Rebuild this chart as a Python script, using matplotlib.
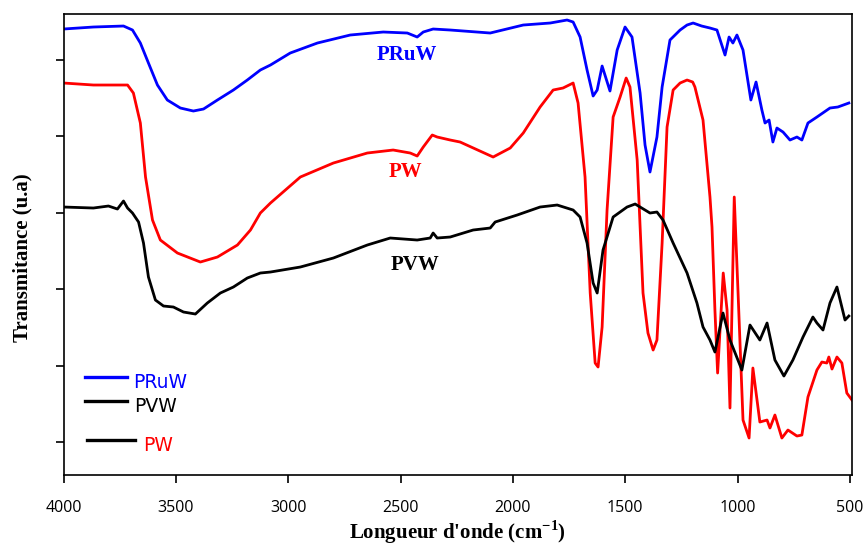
import matplotlib
matplotlib.use("Agg")
import matplotlib.pyplot as plt
import numpy as np

plt.rcParams['mathtext.fontset'] = 'custom'
plt.rcParams['mathtext.rm'] = 'Liberation Serif'
plt.rcParams['mathtext.bf'] = 'Liberation Serif:bold'

# wavenumbers (cm-1) and transmittance (arbitrary units)
pruw_wn = [4000, 3867, 3733, 3693, 3658, 3622, 3582, 3538, 3480, 3422, 3377, 3315, 3244, 3182,
           3124, 3079, 2991, 2870, 2724, 2577, 2470, 2426, 2399, 2355, 2279, 2101, 1954, 1834,
           1759, 1732, 1701, 1670, 1643, 1625, 1603, 1568, 1536, 1501, 1470, 1434, 1412, 1390,
           1359, 1336, 1301, 1256, 1225, 1198, 1160, 1123, 1092, 1056, 1038, 1021, 1003, 976,
           941, 918, 892, 878, 860, 843, 825, 798, 767, 736, 714, 687, 647, 589, 554, 505]
pruw_t = [433, 435, 436, 432, 419, 399, 377, 362, 354, 351, 353, 362, 372, 382,
          392, 397, 409, 419, 427, 430, 429, 425, 430, 433, 432, 429, 437, 439,
          442, 440, 425, 392, 366, 372, 396, 371, 412, 435, 425, 369, 317, 290,
          325, 375, 422, 432, 437, 439, 436, 434, 432, 407, 425, 419, 427, 412,
          362, 380, 352, 339, 342, 320, 334, 330, 322, 325, 322, 339, 345, 354, 355, 359]

pw_wn = [4000, 3867, 3715, 3689, 3658, 3635, 3604, 3569, 3493, 3391, 3315, 3226, 3168, 3124,
         3079, 2946, 2799, 2648, 2533, 2457, 2426, 2399, 2359, 2337, 2279, 2235, 2088, 2012,
         1954, 1879, 1821, 1777, 1732, 1710, 1679, 1656, 1634, 1621, 1603, 1581, 1554, 1523,
         1496, 1479, 1447, 1421, 1399, 1376, 1359, 1336, 1314, 1287, 1256, 1225, 1200, 1190,
         1154, 1123, 1114, 1101, 1089, 1064, 1047, 1034, 1015, 998, 976, 949, 932, 901,
         869, 856, 834, 803, 776, 736, 714, 687, 647, 625, 603, 594, 580, 558, 536, 514, 491]
pw_t = [379, 377, 377, 369, 339, 285, 242, 222, 209, 200, 205, 217, 232, 249,
        259, 285, 299, 309, 312, 309, 306, 315, 327, 325, 322, 320, 305, 314,
        329, 355, 372, 374, 379, 359, 285, 169, 99, 95, 135, 252, 345, 365,
        384, 375, 302, 169, 129, 112, 122, 219, 335, 372, 379, 382, 380, 375,
        342, 265, 235, 152, 89, 189, 152, 54, 265, 169, 42, 24, 94, 40,
        42, 34, 47, 24, 32, 26, 27, 65, 92, 100, 99, 105, 93, 105, 99, 69, 62]

pvw_wn = [4000, 3867, 3800, 3760, 3733, 3715, 3693, 3666, 3644, 3622, 3591, 3555, 3511, 3466,
          3413, 3360, 3302, 3244, 3182, 3124, 3079, 2946, 2799, 2648, 2546, 2426, 2368, 2355,
          2337, 2279, 2177, 2101, 2079, 1981, 1879, 1803, 1732, 1701, 1670, 1643, 1625, 1599,
          1554, 1492, 1456, 1390, 1359, 1332, 1287, 1225, 1181, 1154, 1123, 1101, 1065, 1034,
          981, 945, 901, 869, 834, 794, 754, 709, 665, 647, 620, 589, 558, 522, 505]
pvw_t = [255, 254, 256, 253, 261, 254, 249, 240, 219, 185, 162, 156, 155, 150,
         148, 159, 169, 175, 184, 189, 190, 195, 204, 217, 224, 222, 224, 229,
         224, 225, 232, 234, 240, 247, 255, 257, 252, 245, 219, 179, 169, 212,
         245, 255, 258, 249, 250, 242, 219, 189, 159, 135, 122, 110, 149, 122,
         92, 137, 122, 139, 102, 86, 102, 125, 145, 139, 132, 159, 175, 142, 146]

colors = {"PRuW": "#0000ff", "PW": "#ff0000", "PVW": "black"}

fig = plt.figure(figsize=(8.64, 5.45), dpi=100)
ax = fig.add_axes([0.0735, 0.1284, 0.9126, 0.8468])

ax.plot(pruw_wn, pruw_t, color=colors["PRuW"], lw=2.0)
ax.plot(pw_wn, pw_t, color=colors["PW"], lw=2.0)
ax.plot(pvw_wn, pvw_t, color=colors["PVW"], lw=2.0)

serif_bold = dict(family="Liberation Serif", fontweight="bold", fontsize=15)
ax.text(2470, 407, "PRuW", color=colors["PRuW"], ha="center", va="center", **serif_bold)
ax.text(2479, 290, "PW", color=colors["PW"], ha="center", va="center", **serif_bold)
ax.text(2435, 197, "PVW", color=colors["PVW"], ha="center", va="center", **serif_bold)

# hand-made legend as in the original figure
tr = ax.transAxes
ax.plot([0.0273, 0.0805], [0.2124, 0.2124], color=colors["PRuW"], lw=2.4, transform=tr)
ax.text(0.0881, 0.2015, "PRuW", color=colors["PRuW"], fontsize=13.5, va="center", transform=tr)
ax.plot([0.0273, 0.0805], [0.1603, 0.1603], color="black", lw=2.4, transform=tr)
ax.text(0.0894, 0.1495, "PVW", color="black", fontsize=13.5, va="center", transform=tr)
ax.plot([0.0298, 0.0907], [0.0758, 0.0758], color="black", lw=2.4, transform=tr)
ax.text(0.1008, 0.0650, "PW", color=colors["PW"], fontsize=13.5, va="center", transform=tr)

ax.set_xlim(4000, 491)
ax.set_ylim(-13, 448.5)
ax.set_xticks([4000, 3500, 3000, 2500, 2000, 1500, 1000, 500])
ax.set_yticks(20 + 76.4 * np.arange(6))
ax.set_yticklabels([])
ax.tick_params(axis="x", direction="out", length=6, width=1.2, pad=12, labelsize=11.5)
ax.tick_params(axis="y", direction="out", length=6, width=1.2)
for lab in ax.get_xticklabels():
    lab.set_family("Open Sans")
for sp in ax.spines.values():
    sp.set_linewidth(1.2)

ax.set_xlabel(r"Longueur d'onde (cm$^{\mathbf{-1}}$)", labelpad=2, **serif_bold)
ax.set_ylabel("Transmitance (u.a)", **serif_bold)
ax.yaxis.set_label_coords(-0.039, 0.47)

fig.savefig("out.png", dpi=100)
